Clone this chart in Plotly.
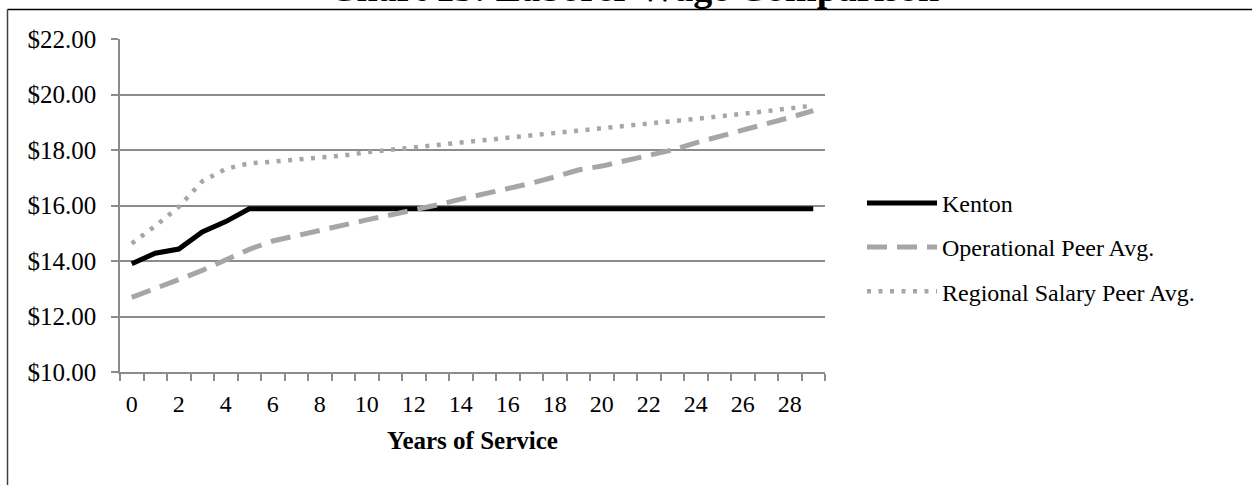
import plotly.graph_objects as go

# years of service 0..29
years = list(range(30))

kenton = [13.90, 14.28, 14.43, 15.05, 15.42] + [15.88] * 25
operational = [12.69, 12.99, 13.33, 13.66, 14.05, 14.42, 14.72, 14.92, 15.10, 15.30,
               15.48, 15.66, 15.82, 16.02, 16.23, 16.42, 16.60, 16.80, 17.03, 17.28,
               17.42, 17.60, 17.79, 18.00, 18.26, 18.48, 18.71, 18.95, 19.17, 19.42]
regional = [14.63, 15.26, 15.95, 16.87, 17.32, 17.52, 17.58, 17.64, 17.71, 17.80,
            17.92, 18.02, 18.10, 18.18, 18.27, 18.36, 18.45, 18.54, 18.62, 18.70,
            18.79, 18.87, 18.96, 19.04, 19.12, 19.20, 19.30, 19.40, 19.50, 19.60]

x_ticks = list(range(0, 30, 2))
y_ticks = [10, 12, 14, 16, 18, 20, 22]
y_labels = ["$%.2f" % v for v in y_ticks]

FONT = "Liberation Serif"
GREY = "#a6a6a6"
AXIS = "#8c8c8c"

fig = go.Figure()

fig.add_trace(go.Scatter(x=years, y=kenton, mode="lines", name="Kenton",
                         legendgroup="a",
                         line=dict(color="black", width=5)))
fig.add_trace(go.Scatter(x=years, y=operational, mode="lines", name="Operational Peer Avg.",
                         legendgroup="b",
                         line=dict(color=GREY, width=5, dash="20px,10px")))
fig.add_trace(go.Scatter(x=years, y=regional, mode="lines", name="Regional Salary Peer Avg.",
                         legendgroup="c",
                         line=dict(color=GREY, width=4.5, dash="4px,7.5px")))

# plot area: x 120..825 px, y 39..372.5 px
pw, ph = 705.0, 333.5

def px_x(v):
    return (v - 120) / pw

def px_y(v):
    return (372.5 - v) / ph

# outer chart border (cropped at right and bottom)
fig.add_shape(type="line", xref="paper", yref="paper",
              x0=px_x(7.5), x1=px_x(1300), y0=px_y(9.5), y1=px_y(9.5),
              line=dict(color="black", width=1.5))
fig.add_shape(type="line", xref="paper", yref="paper",
              x0=px_x(7.5), x1=px_x(7.5), y0=px_y(9.5), y1=px_y(520),
              line=dict(color="#404040", width=1.5))

# title, mostly cut off by the top edge as in the source image
fig.add_annotation(text="<b>Chart 15: Laborer Wage Comparison</b>",
                   xref="paper", yref="paper", x=px_x(634), y=px_y(11),
                   xanchor="center", yanchor="bottom", showarrow=False,
                   font=dict(family=FONT, size=38, color="black"))

fig.update_layout(
    width=1252, height=485,
    margin=dict(l=120, r=427, t=39, b=112.5),
    paper_bgcolor="white", plot_bgcolor="white",
    font=dict(family=FONT, size=24, color="black"),
    showlegend=True,
    legend=dict(x=px_x(862), y=px_y(181), xanchor="left", yanchor="top",
                font=dict(family=FONT, size=24), itemwidth=70,
                tracegroupgap=10, bgcolor="rgba(0,0,0,0)"),
    xaxis=dict(
        range=[-0.5, 29.5], tickmode="array", tickvals=x_ticks,
        ticktext=[str(v) for v in x_ticks], ticks="", showgrid=False,
        showline=True, linecolor=AXIS, linewidth=1.5, zeroline=False,
        ticklabelstandoff=9,
        minor=dict(tick0=-0.5, dtick=1, ticks="outside", ticklen=7,
                   tickcolor=AXIS, tickwidth=1.5, showgrid=False),
        title=dict(text="<b>Years of Service</b>", font=dict(family=FONT, size=25),
                   standoff=16),
    ),
    yaxis=dict(
        range=[10, 22], tickmode="array", tickvals=y_ticks, ticktext=y_labels,
        ticks="outside", ticklen=7,
        tickcolor=AXIS, tickwidth=1.5, showline=True, linecolor=AXIS,
        linewidth=1.5, gridcolor=AXIS, gridwidth=1.5, zeroline=False,
        ticklabelstandoff=10, tickfont=dict(family=FONT, size=25),
    ),
)

fig.write_html("out.html", config={"displayModeBar": False},
               post_script="document.body.style.margin='0';")
